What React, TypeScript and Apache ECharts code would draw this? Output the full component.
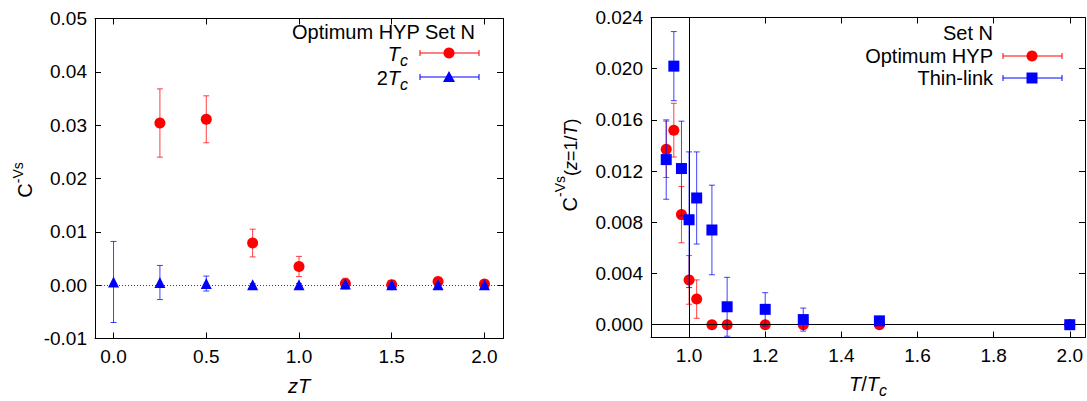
import React, { useEffect, useRef } from "react";
import * as echarts from "echarts";

// ---- Left panel data: C^{-Vs} vs zT ----
const zTRed = [0.25, 0.5, 0.75, 1.0, 1.25, 1.5, 1.75, 2.0];
const tcVal = [0.0304, 0.0311, 0.0079, 0.0035, 0.0003, 0.0001, 0.0007, 0.0002];
const tcErr = [0.0064, 0.0044, 0.0026, 0.0019, 0.001, 0.0002, 0.0002, 0.0002];
const zTBlue = [0, 0.25, 0.5, 0.75, 1.0, 1.25, 1.5, 1.75, 2.0];
const tc2Val = [0.0006, 0.0005, 0.0003, 0.0001, 0.0001, 0.0002, 0.0001, 0.0001, 0.0001];
const tc2Err = [0.0076, 0.0032, 0.0014, 0.0002, 0.0002, 0.0002, 0.0002, 0.0002, 0.0002];

// ---- Right panel data: C^{-Vs}(z=1/T) vs T/Tc ----
const tHyp = [0.94, 0.96, 0.98, 1.0, 1.02, 1.06, 1.1, 1.2, 1.3, 1.5, 2.0];
const hypVal = [0.0137, 0.0152, 0.0086, 0.0035, 0.002, 0.0, 0.0, 0.0, 0.0, 0.0, 0.0];
const hypErr = [0.0022, 0.0021, 0.0022, 0.0019, 0.0015, 0.0001, 0.0001, 0.0001, 0.0001, 0.0001, 0.0001];
const tThin = [0.94, 0.96, 0.98, 1.0, 1.02, 1.06, 1.1, 1.2, 1.3, 1.5, 2.0];
const thinVal = [0.0129, 0.0202, 0.0122, 0.0082, 0.0099, 0.0074, 0.0014, 0.0012, 0.0004, 0.0003, 0.0];
const thinErr = [0.0031, 0.0027, 0.0037, 0.0053, 0.0036, 0.0035, 0.0023, 0.0013, 0.0009, 0.0002, 0.0001];

// tick labels
const leftXTicks = [0, 0.5, 1.0, 1.5, 2.0];
const leftYTicks = [-0.01, 0, 0.01, 0.02, 0.03, 0.04, 0.05];
const rightXTicks = [1.0, 1.2, 1.4, 1.6, 1.8, 2.0];
const rightYTicks = [0, 0.004, 0.008, 0.012, 0.016, 0.02, 0.024];

const FONT = "Liberation Sans, Arial, Helvetica, sans-serif";
const RED = "#ff0000";
const BLUE = "#0000ff";

const zip = (xs: number[], ys: number[]) => xs.map((x, i) => [x, ys[i]]);
const zip3 = (xs: number[], ys: number[], es: number[]) => xs.map((x, i) => [x, ys[i], es[i]]);

function errSeries(xi: number, yi: number, data: number[][], color: string, z: number) {
  return {
    type: "custom",
    xAxisIndex: xi,
    yAxisIndex: yi,
    z,
    data,
    silent: true,
    renderItem: (params: any, api: any) => {
      const x = api.value(0);
      const y = api.value(1);
      const e = api.value(2);
      const t = api.coord([x, y + e]);
      const b = api.coord([x, y - e]);
      const w = 3;
      const style = { stroke: color, lineWidth: 1, opacity: 0.75 };
      return {
        type: "group",
        children: [
          { type: "line", shape: { x1: t[0], y1: t[1], x2: b[0], y2: b[1] }, style },
          { type: "line", shape: { x1: t[0] - w, y1: t[1], x2: t[0] + w, y2: t[1] }, style },
          { type: "line", shape: { x1: b[0] - w, y1: b[1], x2: b[0] + w, y2: b[1] }, style },
        ],
      };
    },
  };
}

function xAxes(gi: number, min: number, max: number, ticks: number[]) {
  const base = {
    gridIndex: gi,
    type: "value",
    min,
    max,
    splitLine: { show: false },
    axisLine: { show: true, onZero: false, lineStyle: { color: "#000", width: 1 } },
    axisTick: { show: true, inside: true, length: 6, customValues: ticks, lineStyle: { color: "#000" } },
  };
  return [
    {
      ...base,
      position: "bottom",
      axisLabel: {
        customValues: ticks,
        formatter: (v: number) => v.toFixed(1),
        fontSize: 19,
        color: "#000",
        fontFamily: FONT,
        margin: 8,
      },
    },
    { ...base, position: "top", axisLabel: { show: false } },
  ];
}

function yAxes(gi: number, min: number, max: number, ticks: number[], dec: number) {
  const base = {
    gridIndex: gi,
    type: "value",
    min,
    max,
    splitLine: { show: false },
    axisLine: { show: true, onZero: false, lineStyle: { color: "#000", width: 1 } },
    axisTick: { show: true, inside: true, length: 6, customValues: ticks, lineStyle: { color: "#000" } },
  };
  return [
    {
      ...base,
      position: "left",
      axisLabel: {
        customValues: ticks,
        formatter: (v: number) => (Math.abs(v) < 1e-12 ? 0 : v).toFixed(dec),
        fontSize: 19,
        color: "#000",
        fontFamily: FONT,
        margin: 8,
      },
    },
    { ...base, position: "right", axisLabel: { show: false } },
  ];
}

const txt = (x: number, y: number, text: string, extra: any = {}) => ({
  type: "text",
  x,
  y,
  z: 100,
  style: {
    text,
    fontSize: 20,
    lineHeight: 20,
    fontFamily: FONT,
    fill: "#000",
    align: "right",
    verticalAlign: "middle",
    ...extra,
  },
});

const legendBar = (x1: number, x2: number, y: number, color: string) => [
  { type: "line", z: 100, shape: { x1, y1: y, x2, y2: y }, style: { stroke: color, lineWidth: 1 } },
  { type: "line", z: 100, shape: { x1, y1: y - 3, x2: x1, y2: y + 3 }, style: { stroke: color, lineWidth: 1 } },
  { type: "line", z: 100, shape: { x1: x2, y1: y - 3, x2, y2: y + 3 }, style: { stroke: color, lineWidth: 1 } },
];

// subscript rich styles (no explicit lineHeight so padding drives the offsets)
const subRich = {
  i: { fontSize: 20, fontStyle: "italic", fontFamily: FONT, verticalAlign: "top" },
  n: { fontSize: 20, fontFamily: FONT, verticalAlign: "top" },
  s: { fontSize: 16, fontStyle: "italic", fontFamily: FONT, padding: [8, 0, 0, 0], verticalAlign: "bottom" },
};

export default function App() {
  const ref = useRef<HTMLDivElement>(null);
  useEffect(() => {
    document.body.style.margin = "0";
    const chart = echarts.init(ref.current!, undefined, { renderer: "svg" });
    const option: any = {
      animation: false,
      backgroundColor: "#fff",
      grid: [
        { left: 95, top: 18.5, width: 408, height: 320 },
        { left: 651, top: 17.5, width: 434, height: 320 },
      ],
      xAxis: [...xAxes(0, -0.1, 2.1, leftXTicks), ...xAxes(1, 0.9, 2.04, rightXTicks)],
      yAxis: [...yAxes(0, -0.01, 0.05, leftYTicks, 2), ...yAxes(1, -0.001, 0.024, rightYTicks, 3)],
      series: [
        // left panel
        {
          type: "line",
          xAxisIndex: 0,
          yAxisIndex: 0,
          data: [],
          markLine: {
            silent: true,
            symbol: "none",
            label: { show: false },
            lineStyle: { type: [1, 2], color: "#444", width: 1 },
            data: [{ yAxis: 0 }],
          },
        },
        errSeries(0, 0, zip3(zTRed, tcVal, tcErr), RED, 2),
        {
          type: "scatter",
          xAxisIndex: 0,
          yAxisIndex: 0,
          z: 3,
          symbol: "circle",
          symbolSize: 11,
          itemStyle: { color: RED, opacity: 1 },
          data: zip(zTRed, tcVal),
        },
        errSeries(0, 0, zip3(zTBlue, tc2Val, tc2Err), BLUE, 4),
        {
          type: "scatter",
          xAxisIndex: 0,
          yAxisIndex: 0,
          z: 5,
          symbol: "triangle",
          symbolSize: 11,
          itemStyle: { color: BLUE, opacity: 1 },
          data: zip(zTBlue, tc2Val),
        },
        // right panel
        {
          type: "line",
          xAxisIndex: 2,
          yAxisIndex: 2,
          data: [],
          markLine: {
            silent: true,
            symbol: "none",
            label: { show: false },
            lineStyle: { type: "solid", color: "#000", width: 1 },
            data: [{ yAxis: 0 }, { xAxis: 1 }],
          },
        },
        errSeries(2, 2, zip3(tHyp, hypVal, hypErr), RED, 2),
        {
          type: "scatter",
          xAxisIndex: 2,
          yAxisIndex: 2,
          z: 3,
          symbol: "circle",
          symbolSize: 11,
          itemStyle: { color: RED, opacity: 1 },
          data: zip(tHyp, hypVal),
        },
        errSeries(2, 2, zip3(tThin, thinVal, thinErr), BLUE, 4),
        {
          type: "scatter",
          xAxisIndex: 2,
          yAxisIndex: 2,
          z: 5,
          symbol: "rect",
          symbolSize: 11,
          itemStyle: { color: BLUE, opacity: 1 },
          data: zip(tThin, thinVal),
        },
      ],
      graphic: [
        // left legend
        txt(475, 32, "Optimum HYP Set N"),
        txt(408, 56, "{i|T}{s|c}", { rich: subRich, lineHeight: undefined }),
        ...legendBar(420, 479, 53, RED),
        { type: "circle", z: 101, shape: { cx: 449, cy: 53, r: 5.5 }, style: { fill: RED } },
        txt(408, 80, "{n|2}{i|T}{s|c}", { rich: subRich, lineHeight: undefined }),
        ...legendBar(420, 479, 77, BLUE),
        {
          type: "polygon",
          z: 101,
          shape: { points: [[449, 71], [443, 82], [455, 82]] },
          style: { fill: BLUE },
        },
        // right legend
        txt(993, 33, "Set N"),
        txt(993, 56, "Optimum HYP"),
        ...legendBar(1003, 1062, 56, RED),
        { type: "circle", z: 101, shape: { cx: 1032, cy: 56, r: 5.5 }, style: { fill: RED } },
        txt(993, 78, "Thin-link"),
        ...legendBar(1003, 1062, 78, BLUE),
        { type: "rect", z: 101, shape: { x: 1026.5, y: 72.5, width: 11, height: 11 }, style: { fill: BLUE } },
        // axis names
        txt(299, 386, "zT", { align: "center", fontStyle: "italic" }),
        txt(868, 386, "{i|T}{n|/}{i|T}{s|c}", { align: "center", rich: subRich, lineHeight: undefined }),
        {
          type: "text",
          x: 23,
          y: 180,
          rotation: Math.PI / 2,
          z: 100,
          style: {
            text: "{b|C}{p|-Vs}",
            align: "center",
            verticalAlign: "middle",
            fontFamily: FONT,
            rich: {
              b: { fontSize: 20, fontFamily: FONT, padding: [4, 0, 0, 0], verticalAlign: "bottom" },
              p: { fontSize: 14, fontFamily: FONT, verticalAlign: "top" },
            },
          },
        },
        {
          type: "text",
          x: 566,
          y: 165,
          rotation: Math.PI / 2,
          z: 100,
          style: {
            text: "{b|C}{p|-Vs}{q|(}{qi|z}{q|=1/}{qi|T}{q|)}",
            align: "center",
            verticalAlign: "middle",
            fontFamily: FONT,
            rich: {
              b: { fontSize: 20, fontFamily: FONT, padding: [4, 0, 0, 0], verticalAlign: "bottom" },
              p: { fontSize: 14, fontFamily: FONT, verticalAlign: "top" },
              q: { fontSize: 18, fontFamily: FONT, padding: [9, 0, 0, 0], verticalAlign: "bottom" },
              qi: { fontSize: 18, fontFamily: FONT, fontStyle: "italic", padding: [9, 0, 0, 0], verticalAlign: "bottom" },
            },
          },
        },
      ],
    };
    chart.setOption(option);
    return () => chart.dispose();
  }, []);
  return (
    <div
      ref={ref}
      style={{ position: "fixed", left: 0, top: 0, width: 1087, height: 401 }}
    />
  );
}
